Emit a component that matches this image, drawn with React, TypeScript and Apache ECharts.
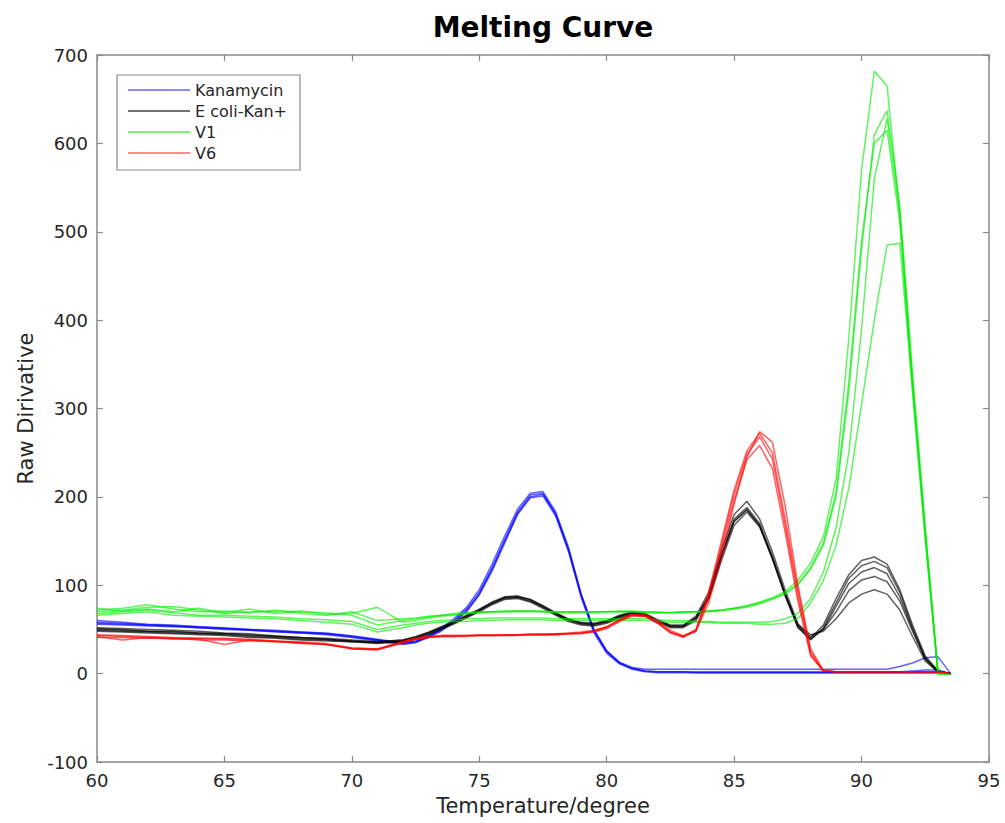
import React, { useEffect, useRef } from "react";
import * as echarts from "echarts";

// Temperatures (°C) at which the derivative was sampled
const temps = [
  60, 61, 62, 63, 64, 65, 66, 67, 68, 69, 70, 71, 72,
  72.5, 73, 73.5, 74, 74.5, 75, 75.5, 76, 76.5, 77, 77.5, 78, 78.5, 79, 79.5, 80,
  80.5, 81, 81.5, 82, 82.5, 83, 83.5, 84, 84.5, 85, 85.5, 86, 86.5, 87,
  87.5, 88, 88.5, 89, 89.5, 90, 90.5, 91, 91.5, 92, 92.5, 93, 93.5,
];

// Kanamycin replicates
const kanA = [
  58, 57, 55, 54, 53, 51, 50, 48, 47, 45, 42, 38, 34,
  36, 42, 50, 60, 73, 92, 120, 152, 183, 202, 204, 180, 140, 88, 48, 25,
  12, 6, 3, 2, 2, 2, 1, 1, 1, 1, 1, 1, 1, 1,
  1, 1, 1, 1, 1, 1, 1, 1, 1, 1, 1, 1, 0,
];
const kanB = [
  60, 58, 56, 55, 53, 52, 50, 49, 47, 46, 43, 39, 35,
  37, 43, 51, 62, 75, 95, 124, 156, 186, 204, 206, 183, 143, 90, 50, 26,
  13, 7, 5, 5, 5, 5, 5, 5, 5, 5, 5, 5, 5, 5,
  5, 5, 5, 5, 5, 5, 5, 5, 8, 12, 18, 19, 0,
];
const kanC = [
  56, 55, 54, 53, 52, 50, 49, 47, 46, 44, 41, 37, 33,
  35, 41, 48, 58, 70, 89, 116, 148, 180, 199, 201, 178, 138, 86, 46, 23,
  11, 5, 2, 1, 1, 1, 1, 1, 1, 1, 1, 1, 1, 1,
  1, 1, 1, 1, 1, 1, 1, 1, 1, 1, 1, 1, 0,
];
const kanD = [
  57, 56, 55, 54, 52, 51, 49, 48, 46, 45, 42, 38, 34,
  36, 41, 49, 59, 71, 90, 118, 150, 181, 200, 203, 181, 141, 89, 49, 25,
  12, 6, 3, 2, 2, 2, 2, 2, 2, 2, 2, 2, 2, 2,
  2, 2, 2, 2, 2, 2, 2, 2, 2, 3, 4, 4, 0,
];

// E coli-Kan+ replicates
const ecoA = [
  52, 51, 50, 49, 48, 46, 45, 43, 41, 40, 38, 36, 38,
  42, 47, 53, 59, 66, 73, 81, 87, 88, 84, 77, 69, 62, 58, 57, 60,
  66, 70, 68, 61, 55, 55, 65, 92, 140, 180, 195, 175, 138, 95,
  56, 40, 55, 85, 112, 128, 132, 124, 95, 55, 20, 3, 0,
];
const ecoB = [
  50, 50, 48, 47, 46, 45, 44, 42, 40, 39, 37, 35, 37,
  41, 46, 52, 58, 65, 72, 80, 86, 87, 83, 76, 68, 61, 57, 56, 59,
  65, 69, 67, 60, 54, 54, 63, 88, 135, 175, 188, 170, 133, 90,
  53, 38, 52, 80, 108, 122, 127, 120, 92, 52, 18, 3, 0,
];
const ecoC = [
  49, 48, 47, 46, 45, 44, 42, 41, 39, 38, 36, 35, 37,
  40, 45, 51, 57, 64, 71, 79, 85, 86, 82, 75, 67, 60, 56, 55, 58,
  64, 68, 66, 59, 53, 53, 62, 86, 132, 172, 185, 167, 130, 88,
  52, 39, 50, 76, 102, 115, 120, 113, 87, 50, 17, 2, 0,
];
const ecoD = [
  51, 49, 48, 48, 46, 45, 43, 42, 41, 39, 37, 36, 38,
  41, 46, 52, 58, 65, 72, 80, 86, 87, 84, 76, 68, 61, 57, 56, 59,
  65, 69, 67, 60, 54, 54, 63, 87, 133, 173, 186, 168, 131, 89,
  54, 42, 50, 70, 94, 106, 110, 104, 82, 48, 16, 2, 0,
];
const ecoE = [
  48, 47, 46, 45, 44, 43, 41, 40, 38, 37, 36, 34, 36,
  39, 44, 50, 56, 63, 70, 78, 84, 85, 81, 74, 66, 59, 55, 54, 57,
  63, 67, 65, 58, 52, 52, 60, 84, 128, 168, 183, 166, 130, 90,
  56, 44, 48, 62, 80, 90, 95, 90, 72, 42, 14, 2, 0,
];

// V1 replicates
const v1A = [
  72, 74, 78, 73, 70, 71, 69, 72, 68, 66, 70, 60, 62,
  63, 65, 66, 68, 69, 70, 70, 71, 71, 71, 70, 70, 70, 70, 70, 70,
  70, 70, 70, 69, 69, 70, 70, 71, 72, 74, 77, 81, 86, 93,
  106, 125, 155, 220, 380, 570, 682, 665, 520, 330, 160, 0, 0,
];
const v1B = [
  70, 72, 75, 76, 72, 68, 70, 70, 71, 67, 68, 75, 58,
  60, 63, 65, 66, 68, 69, 70, 70, 70, 70, 70, 69, 69, 69, 69, 70,
  70, 70, 69, 69, 69, 69, 70, 70, 71, 73, 75, 79, 84, 90,
  100, 118, 145, 200, 320, 480, 610, 637, 530, 340, 165, 0, 0,
];
const v1C = [
  74, 71, 73, 70, 74, 69, 73, 68, 70, 69, 66, 55, 60,
  62, 64, 66, 67, 68, 69, 70, 70, 71, 71, 71, 70, 70, 70, 70, 70,
  71, 71, 70, 70, 69, 70, 70, 71, 72, 74, 76, 80, 85, 91,
  102, 120, 148, 205, 330, 490, 600, 615, 510, 320, 150, 0, 0,
];
const v1D = [
  66, 68, 70, 66, 65, 64, 63, 62, 60, 58, 56, 47, 52,
  55, 57, 58, 59, 59, 60, 60, 61, 61, 61, 61, 60, 60, 60, 60, 60,
  60, 60, 60, 59, 58, 58, 58, 58, 57, 57, 57, 56, 56, 57,
  62, 80, 105, 145, 210, 305, 400, 485, 487, 320, 155, 0, 0,
];
const v1E = [
  68, 70, 72, 69, 66, 66, 65, 64, 62, 61, 59, 50, 55,
  57, 59, 60, 61, 62, 62, 63, 63, 63, 63, 63, 62, 62, 62, 62, 62,
  62, 62, 62, 61, 60, 60, 59, 59, 58, 58, 58, 58, 59, 62,
  68, 85, 115, 165, 250, 390, 560, 628, 520, 330, 160, 0, 0,
];

// V6 replicates
const v6A = [
  43, 42, 41, 40, 40, 39, 38, 37, 36, 34, 29, 28, 36,
  40, 42, 43, 43, 43, 43, 43, 44, 44, 44, 44, 45, 45, 46, 48, 53,
  61, 67, 66, 58, 47, 42, 50, 92, 150, 208, 252, 272, 250, 175,
  95, 25, 3, 2, 2, 2, 2, 2, 2, 2, 2, 2, 0,
];
const v6B = [
  42, 38, 41, 39, 39, 33, 38, 36, 35, 33, 28, 27, 35,
  39, 41, 42, 42, 42, 43, 43, 43, 43, 44, 44, 44, 45, 46, 48, 52,
  60, 66, 65, 57, 46, 41, 49, 88, 145, 203, 248, 268, 243, 168,
  88, 22, 3, 2, 2, 2, 2, 2, 2, 2, 2, 2, 0,
];
const v6C = [
  41, 41, 40, 40, 38, 38, 37, 36, 35, 33, 28, 27, 35,
  39, 41, 42, 42, 43, 43, 43, 43, 44, 44, 44, 44, 45, 45, 47, 51,
  59, 65, 65, 57, 47, 42, 48, 86, 140, 196, 242, 258, 232, 160,
  82, 20, 3, 2, 2, 2, 2, 2, 2, 2, 2, 2, 0,
];
const v6D = [
  44, 43, 42, 41, 40, 40, 39, 37, 34, 33, 29, 28, 36,
  40, 42, 43, 43, 43, 44, 44, 44, 44, 45, 45, 45, 46, 47, 49, 53,
  61, 67, 67, 60, 49, 43, 48, 80, 130, 192, 245, 274, 262, 190,
  100, 28, 4, 2, 2, 2, 2, 2, 2, 2, 2, 2, 0,
];

const groupNames = ["Kanamycin", "E coli-Kan+", "V1", "V6"];
const groupColors = ["#0000ff", "#000000", "#00ee00", "#ff0000"];
const legendColors = ["#8c8cff", "#707070", "#7cf07c", "#ff8c8c"];
const groupData = [
  [kanA, kanB, kanC, kanD],
  [ecoA, ecoB, ecoC, ecoD, ecoE],
  [v1A, v1B, v1C, v1D, v1E],
  [v6A, v6B, v6C, v6D],
];

const xTicks = { min: 60, max: 95, interval: 5 };
const yTicks = { min: -100, max: 700, interval: 100 };

const FONT = "DejaVu Sans";
const AXIS_COLOR = "#8a8a8a";
const TEXT_COLOR = "#262626";

export default function App() {
  const ref = useRef<HTMLDivElement>(null);

  useEffect(() => {
    if (!ref.current) return;
    const chart = echarts.init(ref.current, undefined, { renderer: "svg" });

    const series: any[] = [];
    groupData.forEach((reps, g) => {
      reps.forEach((arr) => {
        series.push({
          type: "line",
          name: groupNames[g],
          xAxisIndex: 0,
          yAxisIndex: 0,
          data: temps.map((t, i) => [t, arr[i]]),
          showSymbol: false,
          symbol: "none",
          silent: true,
          lineStyle: { color: groupColors[g], width: 1.5, opacity: 0.62 },
          itemStyle: { color: groupColors[g] },
          emphasis: { disabled: true },
        });
      });
    });

    const axisLine = { show: true, onZero: false, lineStyle: { color: AXIS_COLOR, width: 1.5 } };
    const axisTick = { show: true, inside: true, length: 6, lineStyle: { color: AXIS_COLOR, width: 1.2 } };

    chart.setOption({
      animation: false,
      backgroundColor: "#ffffff",
      title: {
        text: "Melting Curve",
        left: 543,
        top: 13,
        padding: 0,
        textAlign: "center",
        textStyle: { fontFamily: FONT, fontWeight: "bold", fontSize: 28, color: "#000" },
      },
      legend: {
        orient: "vertical",
        left: 117,
        top: 75,
        padding: [7, 13, 9, 11],
        itemGap: 5,
        itemWidth: 62,
        itemHeight: 2,
        icon: "rect",
        backgroundColor: "#ffffff",
        borderColor: "#8a8a8a",
        borderWidth: 1.2,
        selectedMode: false,
        textStyle: { fontFamily: FONT, fontSize: 16, color: TEXT_COLOR },
        data: groupNames.map((n, i) => ({
          name: n,
          icon: "rect",
          itemStyle: { color: legendColors[i], opacity: 1 },
        })),
      },
      grid: { left: 97, right: 16, top: 55, bottom: 61, containLabel: false },
      xAxis: [
        {
          type: "value",
          position: "bottom",
          ...xTicks,
          axisLine,
          axisTick,
          splitLine: { show: false },
          axisLabel: { fontFamily: FONT, fontSize: 18, color: TEXT_COLOR, margin: 9 },
          name: "Temperature/degree",
          nameLocation: "middle",
          nameGap: 33,
          nameTextStyle: { fontFamily: FONT, fontSize: 21, color: TEXT_COLOR },
        },
        {
          type: "value",
          position: "top",
          ...xTicks,
          axisLine,
          axisTick,
          splitLine: { show: false },
          axisLabel: { show: false },
        },
      ],
      yAxis: [
        {
          type: "value",
          position: "left",
          ...yTicks,
          axisLine,
          axisTick,
          splitLine: { show: false },
          axisLabel: { fontFamily: FONT, fontSize: 18, color: TEXT_COLOR, margin: 9 },
          name: "Raw Dirivative",
          nameLocation: "middle",
          nameGap: 60,
          nameRotate: 90,
          nameTextStyle: { fontFamily: FONT, fontSize: 21, color: TEXT_COLOR },
        },
        {
          type: "value",
          position: "right",
          ...yTicks,
          axisLine,
          axisTick,
          splitLine: { show: false },
          axisLabel: { show: false },
        },
      ],
      series,
    });

    return () => chart.dispose();
  }, []);

  return (
    <div
      ref={ref}
      style={{ position: "fixed", left: 0, top: 0, width: 1005, height: 823, background: "#fff" }}
    />
  );
}
